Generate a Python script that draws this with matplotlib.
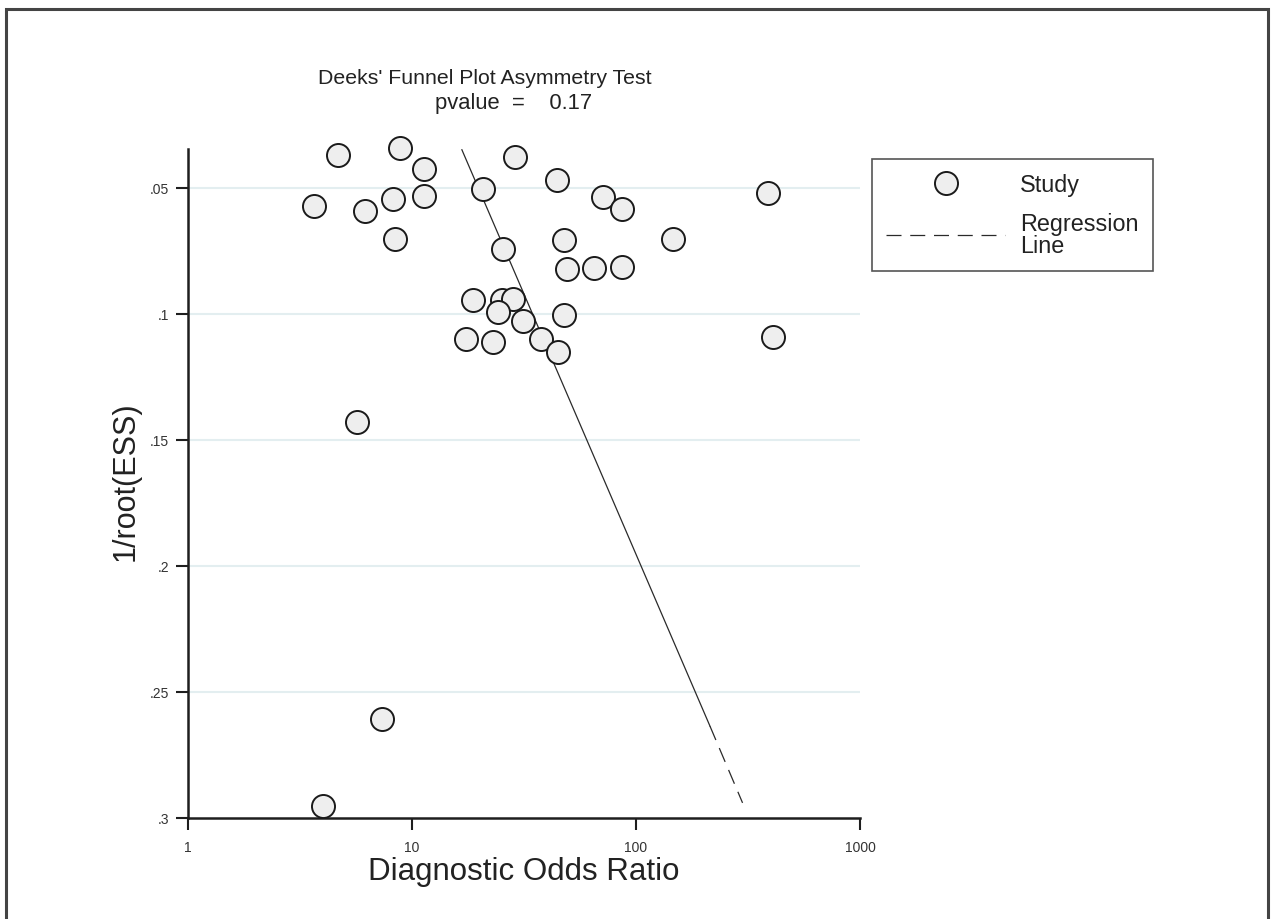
"""
Deeks' funnel plot asymmetry test - recreated with matplotlib
"""

import numpy as np
import matplotlib
matplotlib.use("Agg")
import matplotlib.pyplot as plt
from matplotlib.lines import Line2D
from matplotlib.patches import Rectangle

# ==========================================
# DATA
# ==========================================
dor = [4.69, 8.84, 11.3, 3.65, 6.17, 8.20, 11.3, 8.40, 20.8, 28.8,
       44.3, 25.6, 47.7, 49.4, 64.9, 86.3, 18.7, 25.1, 28.2, 24.3,
       31.4, 47.7, 17.4, 22.9, 37.5, 45.0, 71.5, 86.3, 146.8, 389.7,
       410.0, 5.66, 7.35, 4.02]
inv_root_ess = [0.0371, 0.0344, 0.0427, 0.0572, 0.0592, 0.0546, 0.0532, 0.0704, 0.0506, 0.0380,
                0.0469, 0.0744, 0.0708, 0.0821, 0.0817, 0.0814, 0.0945, 0.0945, 0.0942, 0.0995,
                0.1028, 0.1006, 0.1101, 0.1112, 0.1101, 0.1152, 0.0537, 0.0585, 0.0704, 0.0522,
                0.1094, 0.1429, 0.2606, 0.2953]

# regression line: solid over the fitted range, dashed beyond
reg_solid_x = [16.7, 214.0]
reg_solid_y = [0.0350, 0.2636]
reg_dash_x = [214.0, 299.0]
reg_dash_y = [0.2636, 0.2940]

x_ticks = [1, 10, 100, 1000]
x_ticklabels = ["1", "10", "100", "1000"]
y_ticks = [0.05, 0.1, 0.15, 0.2, 0.25, 0.3]
y_ticklabels = [".05", ".1", ".15", ".2", ".25", ".3"]

TITLE = "Deeks' Funnel Plot Asymmetry Test"
SUBTITLE = "pvalue  =    0.17"

# ==========================================
# STYLE
# ==========================================
plt.rcParams['font.family'] = ['Liberation Sans', 'DejaVu Sans']
W, H = 1273, 920
AXIS_COLOR = "#1e1e1e"
GRID_COLOR = "#e3eef0"
FACE = "#eeeeee"


def main():
    fig = plt.figure(figsize=(W / 100, H / 100), dpi=100)
    fig.patch.set_facecolor("white")

    # outer frame of the graph region
    fig.patches.append(Rectangle((6 / W, -0.05), 1262 / W, 1.05 - 10 / H,
                                 transform=fig.transFigure, fill=False,
                                 edgecolor="#444444", linewidth=2.2))

    ax = fig.add_axes([188 / W, (H - 819) / H, 672 / W, 669 / H])
    ax.set_xscale("log")
    ax.set_xlim(1, 1000)
    ax.set_ylim(0.3, 0.0347)

    # gridlines
    for yv in y_ticks[:-1]:
        ax.axhline(yv, color=GRID_COLOR, linewidth=1.5, zorder=0)

    ax.plot(reg_solid_x, reg_solid_y, color="#2a2a2a", linewidth=0.9, zorder=2)
    ax.plot(reg_dash_x, reg_dash_y, color="#2a2a2a", linewidth=0.9,
            linestyle=(0, (12, 7)), zorder=2)

    ax.scatter(dor, inv_root_ess, s=275, facecolor=FACE, edgecolor="#1a1a1a",
               linewidths=1.4, zorder=3, clip_on=False)

    for side in ["top", "right"]:
        ax.spines[side].set_visible(False)
    for side in ["left", "bottom"]:
        ax.spines[side].set_linewidth(1.8)
        ax.spines[side].set_color(AXIS_COLOR)

    ax.set_xticks(x_ticks)
    ax.set_xticklabels(x_ticklabels)
    ax.xaxis.set_minor_locator(matplotlib.ticker.NullLocator())
    ax.set_yticks(y_ticks)
    ax.set_yticklabels(y_ticklabels)
    ax.tick_params(axis="both", direction="out", length=8.5, width=1.5,
                   color=AXIS_COLOR, labelsize=10, labelcolor="#333333")
    ax.tick_params(axis="y", pad=5)
    ax.tick_params(axis="x", pad=7)

    ax.set_xlabel("Diagnostic Odds Ratio", fontsize=22.5, color="#222222")
    ax.set_ylabel("1/root(ESS)", fontsize=22, color="#222222")
    ax.xaxis.set_label_coords(0.5, (819 - 872) / 669)
    ax.xaxis.label.set_va("center")
    ax.yaxis.set_label_coords((126 - 188) / 672, (819 - 481) / 669)
    ax.yaxis.label.set_va("center")

    fig.text(485 / W, 1 - 78 / H, TITLE, ha="center", va="center",
             fontsize=15.3, color="#222222")
    fig.text(514 / W, 1 - 104 / H, SUBTITLE, ha="center", va="center",
             fontsize=15.8, color="#222222")

    handles = [
        Line2D([], [], marker="o", linestyle="none", markersize=16.6,
               markerfacecolor=FACE, markeredgecolor="#1a1a1a", markeredgewidth=1.4),
        Line2D([], [], color="#2a2a2a", linewidth=0.9, linestyle=(0, (12, 7))),
    ]
    leg = ax.legend(handles, ["Study", "Regression\nLine"], loc="upper left",
                    bbox_to_anchor=(872 / W, 1 - 160 / H), bbox_transform=fig.transFigure,
                    borderaxespad=0, fontsize=16.8, handlelength=5.1, handletextpad=0.65,
                    borderpad=0.6, labelspacing=0.7, fancybox=False, framealpha=1,
                    edgecolor="#555555")
    leg.get_frame().set_linewidth(1.2)
    for t in leg.get_texts():
        t.set_color("#222222")
        t.set_linespacing(0.92)

    fig.savefig("out.png", dpi=100)
    plt.close(fig)


if __name__ == "__main__":
    main()
